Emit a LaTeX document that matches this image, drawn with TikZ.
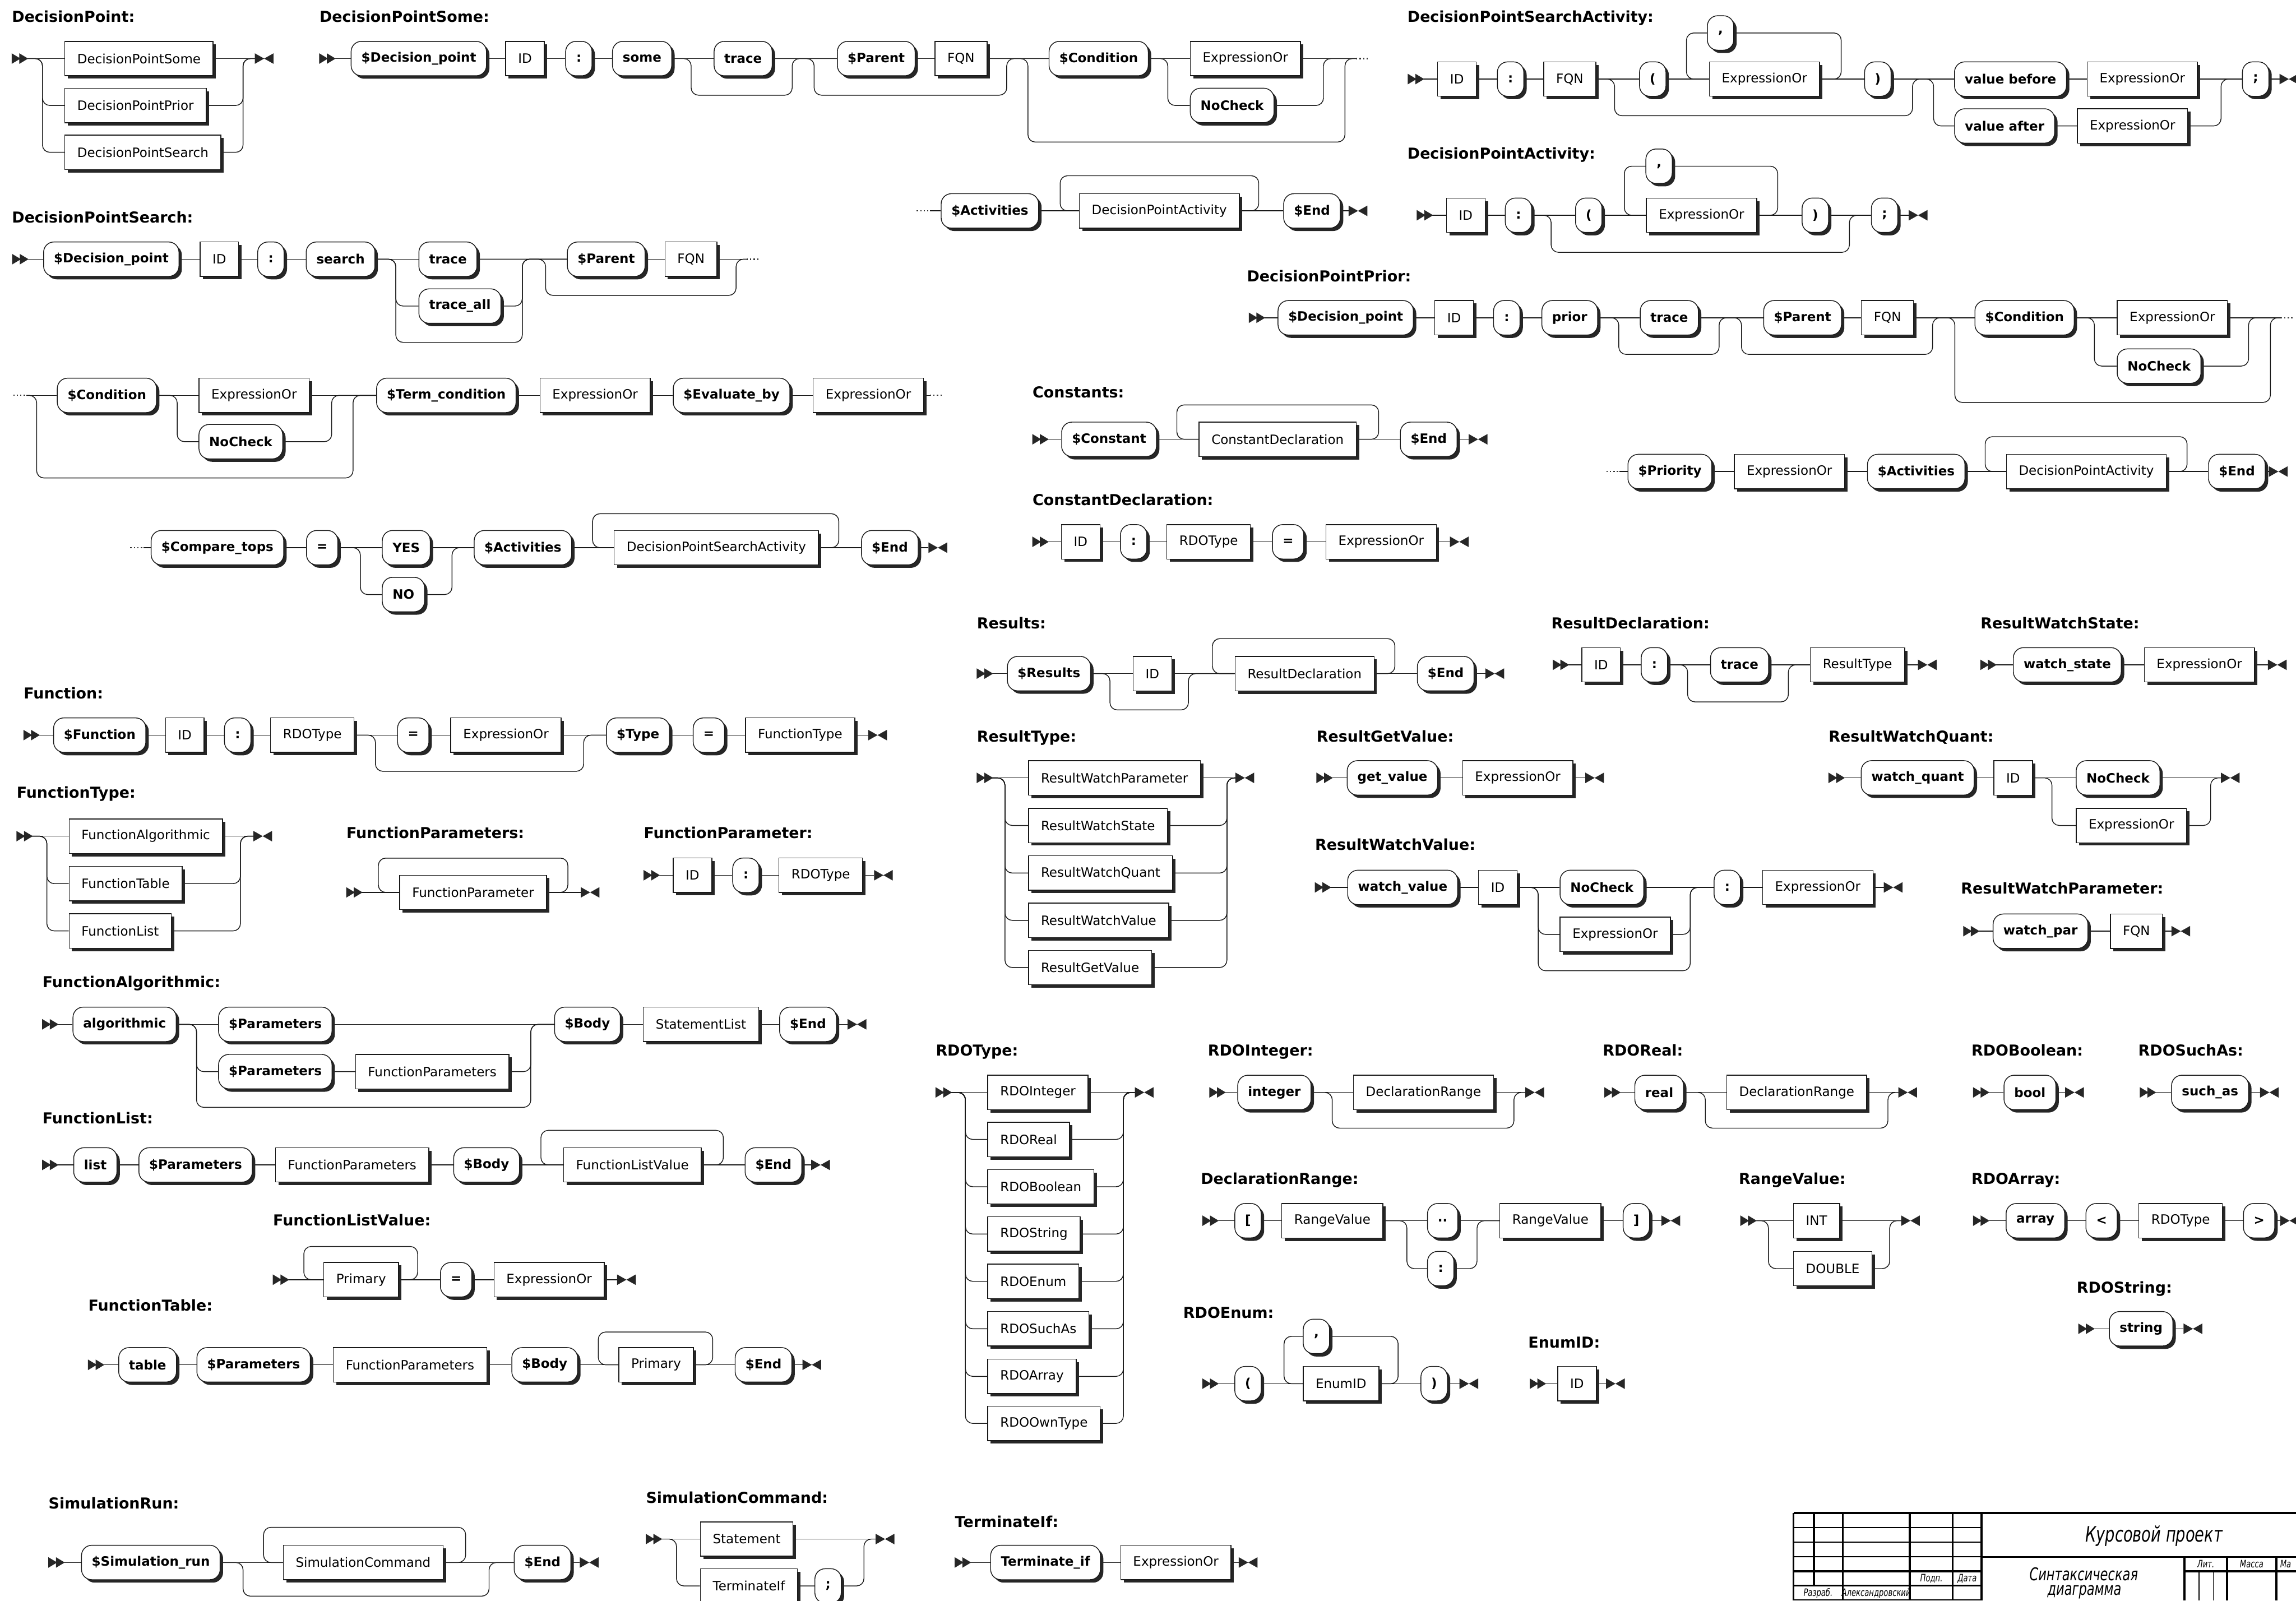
\documentclass[tikz,border=0pt]{standalone}
\usepackage{fontspec}
\setmainfont{DejaVu Sans}
\newfontfamily\gost{DejaVu Sans}[FakeStretch=0.72]
\usetikzlibrary{shadows}
\pgfdeclarelayer{bg}
\pgfsetlayers{bg,main}
\tikzset{
  boxbase/.style={draw=black!90, line width=0.55pt, fill=white, minimum height=23.5pt, inner ysep=2pt,
    general shadow={shadow xshift=2pt, shadow yshift=-2pt, fill=black!85}},
  ntb/.style={boxbase, rectangle, inner xsep=8.5pt, font=\fontsize{8.8}{10}\selectfont},
  tmb/.style={boxbase, rounded corners=7pt, inner xsep=7pt, minimum width=18pt, font=\fontsize{8.8}{10}\selectfont\bfseries},
  ttl/.style={anchor=base west, inner sep=0pt, font=\fontsize{10.3}{12}\selectfont\bfseries},
  rr/.style={line width=0.55pt, rounded corners=5pt, black!90, line join=round},
  mk/.style={fill=black!85},
  dts/.style={line width=0.9pt, dash pattern=on 0.9pt off 1.5pt, black!80},
  sth/.style={line width=1.4pt, black},
  stn/.style={line width=0.7pt, black},
  stt/.style={inner sep=0pt, font=\gost\itshape\fontsize{7}{8}\selectfont}
}
\newcommand\NT[4]{\node[ntb] (#1) at (#2,#3) {#4};}
\newcommand\NTW[4]{\node[ntb,anchor=west] (#1) at (#2,#3) {#4};}
\newcommand\TM[4]{\node[tmb] (#1) at (#2,#3) {#4};}
\newcommand\TMW[4]{\node[tmb,anchor=west] (#1) at (#2,#3) {#4};}
\newcommand\TTL[4]{\node[ttl] (#1) at (#2,#3) {#4};}
\newcommand\RRs[3]{\fill[mk] (#2,#3-3.6) -- (#2+6,#3) -- (#2,#3+3.6) -- cycle (#2+5.2,#3-3.6) -- (#2+11.2,#3) -- (#2+5.2,#3+3.6) -- cycle; \coordinate (#1) at (#2+10.5,#3);}
\newcommand\RRe[3]{\fill[mk] (#2,#3-3.6) -- (#2+6.4,#3) -- (#2,#3+3.6) -- cycle (#2+12.8,#3-3.6) -- (#2+6.4,#3) -- (#2+12.8,#3+3.6) -- cycle; \coordinate (#1) at (#2,#3);}
\newcommand\RRd[4]{\draw[dts] (#3,#4) -- (#3+9,#4); \coordinate (#1) at (#3,#4); \coordinate (#2) at (#3+9,#4);}
\newcommand\RRw[1]{\begin{pgfonlayer}{bg}\draw[rr] #1;\end{pgfonlayer}}
\begin{document}
\begin{tikzpicture}[x=1pt,y=-1pt]
\useasboundingbox (0,0) rectangle (1568,1093);
\begin{pgfonlayer}{bg}\fill[white] (0,0) rectangle (1568,1093);\end{pgfonlayer}

% ===== DecisionPoint
\TTL{tA}{8}{15}{DecisionPoint:}
\RRs{sA}{8}{40}
\NTW{a1}{44}{40}{DecisionPointSome}
\NTW{a2}{44}{72}{DecisionPointPrior}
\NTW{a3}{44}{104}{DecisionPointSearch}
\RRe{eA}{174}{40}
\RRw{(sA) -- (a1) -- (eA)}
\RRw{(sA) -| (29,72) -- (a2)}
\RRw{(sA) -| (29,104) -- (a3)}
\RRw{(a2) -| (166,40) -- (eA)}
\RRw{(a3) -| (166,40) -- (eA)}

% ===== DecisionPointSome
\TTL{tB}{218}{15}{DecisionPointSome:}
\RRs{sB}{218}{40}
\TM{b1}{286}{40}{\$Decision\_point}
\NT{b2}{358.5}{40}{ID}
\TM{b3}{395.3}{40}{:}
\TM{b4}{438.5}{40}{some}
\TM{b5}{507.5}{40}{trace}
\TM{b6}{598.4}{40}{\$Parent}
\NT{b7}{656.3}{40}{FQN}
\TM{b8}{750.3}{40}{\$Condition}
\NTW{b9}{812.6}{40}{ExpressionOr}
\TMW{b10}{812.6}{72}{NoCheck}
\RRd{dB1}{dB1r}{926}{40}
\RRw{(sB) -- (b1) -- (b2) -- (b3) -- (b4) -- (b5) -- (b6) -- (b7) -- (b8) -- (b9) -- (dB1)}
\RRw{(b4) -| (472,65) -| (541,40) -- (b6)}
\RRw{(b5) -| (556,65) -| (687.5,40) -- (b8)}
\RRw{(b7) -| (702,97) -| (918.5,40) -- (dB1)}
\RRw{(b8) -| (797.5,72) -- (b10)}
\RRw{(b10) -| (903.8,40) -- (dB1)}
% continuation
\RRd{dC}{dCr}{626}{144}
\TM{c1}{676}{144}{\$Activities}
\NT{c2}{791.7}{144}{DecisionPointActivity}
\TM{c3}{896}{144}{\$End}
\RRe{eC}{921}{144}
\RRw{(dCr) -- (c1) -- (c2) -- (c3) -- (eC)}
\RRw{(c2) -| (859.6,120) -| (724,144) -- (c2)}

% ===== DecisionPointSearchActivity
\TTL{tD}{961}{15}{DecisionPointSearchActivity:}
\RRs{sD}{961.4}{54}
\NT{d1}{995}{54}{ID}
\TM{d2}{1031.6}{54}{:}
\NT{d3}{1072}{54}{FQN}
\TM{d4}{1128.7}{54}{(}
\NT{d5}{1205}{54}{ExpressionOr}
\TM{d6}{1175}{22.5}{,}
\TM{d7}{1282.4}{54}{)}
\TM{d8}{1373}{54}{value before}
\NT{d9}{1463}{54}{ExpressionOr}
\TM{d10}{1369}{86}{value after}
\NT{d11}{1456.3}{86}{ExpressionOr}
\TM{d12}{1540.4}{54}{;}
\RRe{eD}{1556.7}{54}
\RRw{(sD) -- (d1) -- (d2) -- (d3) -- (d4) -- (d5) -- (d7) -- (d8) -- (d9) -- (d12) -- (eD)}
\RRw{(d5) -| (1257.4,22.5) -- (d6.center) -| (1151.7,54) -- (d5)}
\RRw{(d3) -| (1102.6,79) -| (1306.1,54) -- (d8)}
\RRw{(d7) -| (1320.5,86) -- (d10) -- (d11) -| (1516.8,54) -- (d12)}

% ===== DecisionPointActivity
\TTL{tE}{961}{108.5}{DecisionPointActivity:}
\RRs{sE}{967.5}{147}
\NT{e1}{1001}{147}{ID}
\TM{e2}{1037}{147}{:}
\TM{e3}{1085}{147}{(}
\NT{e4}{1162}{147}{ExpressionOr}
\TM{e5}{1133}{113.5}{,}
\TM{e6}{1239.7}{147}{)}
\TM{e7}{1287}{147}{;}
\RRe{eE}{1303.5}{147}
\RRw{(sE) -- (e1) -- (e2) -- (e3) -- (e4) -- (e6) -- (e7) -- (eE)}
\RRw{(e4) -| (1214,113.5) -- (e5.center) -| (1109.3,147) -- (e4)}
\RRw{(e2) -| (1059.3,172.3) -| (1263,147) -- (e7)}

% ===== DecisionPointSearch
\TTL{tF}{8}{152}{DecisionPointSearch:}
\RRs{sF}{8.3}{177}
\TM{f1}{76}{177}{\$Decision\_point}
\NT{f2}{149.8}{177}{ID}
\TM{f3}{185}{177}{:}
\TM{f4}{232.6}{177}{search}
\TMW{f5}{285.8}{177}{trace}
\TMW{f6}{285.8}{209}{trace\_all}
\TM{f7}{414}{177}{\$Parent}
\NT{f8}{471.9}{177}{FQN}
\RRd{dF1}{dF1r}{509.8}{177}
\RRw{(sF) -- (f1) -- (f2) -- (f3) -- (f4) -- (f5) -- (f7) -- (f8) -- (dF1)}
\RRw{(f4) -| (270.3,209) -- (f6) -| (356.7,177) -- (f7)}
\RRw{(f4) -| (270.3,233.8) -| (356.7,177) -- (f7)}
\RRw{(f5) -| (372.6,201.7) -| (502.7,177) -- (dF1)}
\RRd{dF2}{dF2r}{9}{270}
\TM{f9}{73}{270}{\$Condition}
\NTW{f10}{135.6}{270}{ExpressionOr}
\TMW{f11}{135.6}{301.6}{NoCheck}
\TM{f12}{304.8}{270}{\$Term\_condition}
\NT{f13}{406.4}{270}{ExpressionOr}
\TM{f14}{499.6}{270}{\$Evaluate\_by}
\NT{f15}{593}{270}{ExpressionOr}
\RRd{dF3}{dF3r}{635}{270}
\RRw{(dF2r) -- (f9) -- (f10) -- (f12) -- (f13) -- (f14) -- (f15) -- (dF3)}
\RRw{(dF2r) -| (25,326.4) -| (241.1,270) -- (f12)}
\RRw{(f9) -| (121,301.6) -- (f11) -| (226.5,270) -- (f12)}
\RRd{dF4}{dF4r}{89}{374}
\TM{f16}{148.5}{374}{\$Compare\_tops}
\TM{f17}{220}{374}{=}
\TMW{f18}{260.8}{374}{YES}
\TMW{f19}{260.8}{406}{NO}
\TM{f20}{357.1}{374}{\$Activities}
\NT{f21}{489.2}{374}{DecisionPointSearchActivity}
\TM{f22}{607.7}{374}{\$End}
\RRe{eF}{634.1}{374}
\RRw{(dF4r) -- (f16) -- (f17) -- (f18) -- (f20) -- (f21) -- (f22) -- (eF)}
\RRw{(f17) -| (246.1,406) -- (f19) -| (308.7,374) -- (f20)}
\RRw{(f21) -| (572.8,350.8) -| (404.7,374) -- (f21)}

% ===== DecisionPointPrior
\TTL{tG}{851.4}{192.5}{DecisionPointPrior:}
\RRs{sG}{852.8}{217}
\TM{g1}{919}{217}{\$Decision\_point}
\NT{g2}{993}{217}{ID}
\TM{g3}{1029}{217}{:}
\TM{g4}{1072}{217}{prior}
\TM{g5}{1140}{217}{trace}
\TM{g6}{1231}{217}{\$Parent}
\NT{g7}{1289}{217}{FQN}
\TM{g8}{1382.6}{217}{\$Condition}
\NTW{g9}{1445.6}{217}{ExpressionOr}
\TMW{g10}{1445.6}{250}{NoCheck}
\RRd{dG1}{dG1r}{1557.5}{217}
\RRw{(sG) -- (g1) -- (g2) -- (g3) -- (g4) -- (g5) -- (g6) -- (g7) -- (g8) -- (g9) -- (dG1)}
\RRw{(g4) -| (1105.5,242) -| (1174,217) -- (g6)}
\RRw{(g5) -| (1189.3,242) -| (1319.8,217) -- (g8)}
\RRw{(g7) -| (1335,274.8) -| (1550.5,217) -- (dG1)}
\RRw{(g8) -| (1430.3,250) -- (g10) -| (1535.6,217) -- (dG1)}
\RRd{dG2}{dG2r}{1097}{322}
\TM{g11}{1140.4}{322}{\$Priority}
\NT{g12}{1222}{322}{ExpressionOr}
\TM{g13}{1308.6}{322}{\$Activities}
\NT{g14}{1424.8}{322}{DecisionPointActivity}
\TM{g15}{1527.6}{322}{\$End}
\RRe{eG}{1549.5}{322}
\RRw{(dG2r) -- (g11) -- (g12) -- (g13) -- (g14) -- (g15) -- (eG)}
\RRw{(g14) -| (1493.6,298.2) -| (1355.7,322) -- (g14)}

% ===== Constants
\TTL{tH}{705}{271.5}{Constants:}
\RRs{sH}{705}{300}
\TM{h1}{757.4}{300}{\$Constant}
\NT{h2}{872.5}{300}{ConstantDeclaration}
\TM{h3}{975.7}{300}{\$End}
\RRe{eH}{1003}{300}
\RRw{(sH) -- (h1) -- (h2) -- (h3) -- (eH)}
\RRw{(h2) -| (941.5,276.5) -| (803.7,300) -- (h2)}

% ===== ConstantDeclaration
\TTL{tI}{705}{345}{ConstantDeclaration:}
\RRs{sI}{705}{370}
\NT{i1}{738}{370}{ID}
\TM{i2}{774.2}{370}{:}
\NT{i3}{825.4}{370}{RDOType}
\TM{i4}{879.7}{370}{=}
\NT{i5}{943.2}{370}{ExpressionOr}
\RRe{eI}{990.2}{370}
\RRw{(sI) -- (i1) -- (i2) -- (i3) -- (i4) -- (i5) -- (eI)}

% ===== Results
\TTL{tJ}{667}{429.5}{Results:}
\RRs{sJ}{667}{460}
\TM{j1}{716.4}{460}{\$Results}
\NT{j2}{787}{460}{ID}
\NT{j3}{890.9}{460}{ResultDeclaration}
\TM{j4}{987.3}{460}{\$End}
\RRe{eJ}{1014.4}{460}
\RRw{(sJ) -- (j1) -- (j2) -- (j3) -- (j4) -- (eJ)}
\RRw{(j1) -| (758,484.8) -| (811.6,460) -- (j3)}
\RRw{(j3) -| (952.6,436.1) -| (828,460) -- (j3)}

% ===== ResultDeclaration
\TTL{tK}{1059.3}{429.5}{ResultDeclaration:}
\RRs{sK}{1060.4}{454}
\NT{k1}{1093.4}{454}{ID}
\TM{k2}{1129.8}{454}{:}
\TM{k3}{1188}{454}{trace}
\NT{k4}{1268.5}{454}{ResultType}
\RRe{eK}{1309.8}{454}
\RRw{(sK) -- (k1) -- (k2) -- (k3) -- (k4) -- (eK)}
\RRw{(k2) -| (1152.5,479.3) -| (1221.3,454) -- (k4)}

% ===== ResultWatchState
\TTL{tL}{1352.4}{429.5}{ResultWatchState:}
\RRs{sL}{1352.4}{454}
\TM{l1}{1411.8}{454}{watch\_state}
\NT{l2}{1502}{454}{ExpressionOr}
\RRe{eL}{1548.8}{454}
\RRw{(sL) -- (l1) -- (l2) -- (eL)}

% ===== ResultType
\TTL{tM}{667}{506.5}{ResultType:}
\RRs{sM}{667}{531.2}
\NTW{m1}{702.1}{531.2}{ResultWatchParameter}
\NTW{m2}{702.1}{563.7}{ResultWatchState}
\NTW{m3}{702.1}{596.2}{ResultWatchQuant}
\NTW{m4}{702.1}{628.5}{ResultWatchValue}
\NTW{m5}{702.1}{660.7}{ResultGetValue}
\RRe{eM}{843.7}{531.2}
\RRw{(sM) -- (m1) -- (eM)}
\RRw{(sM) -| (686.3,563.7) -- (m2) -| (837.9,531.2) -- (eM)}
\RRw{(sM) -| (686.3,596.2) -- (m3) -| (837.9,531.2) -- (eM)}
\RRw{(sM) -| (686.3,628.5) -- (m4) -| (837.9,531.2) -- (eM)}
\RRw{(sM) -| (686.3,660.7) -- (m5) -| (837.9,531.2) -- (eM)}

% ===== ResultGetValue
\TTL{tN}{899}{506.5}{ResultGetValue:}
\RRs{sN}{899}{531.2}
\TM{n1}{950.9}{531.2}{get\_value}
\NT{n2}{1036.5}{531.2}{ExpressionOr}
\RRe{eN}{1082.6}{531.2}
\RRw{(sN) -- (n1) -- (n2) -- (eN)}

% ===== ResultWatchQuant
\TTL{tO}{1248.7}{506.5}{ResultWatchQuant:}
\RRs{sO}{1248.7}{531.2}
\TM{o1}{1309.6}{531.2}{watch\_quant}
\NT{o2}{1374.8}{531.2}{ID}
\TMW{o3}{1417.6}{531.2}{NoCheck}
\NTW{o4}{1417.6}{563.7}{ExpressionOr}
\RRe{eO}{1516.7}{531.2}
\RRw{(sO) -- (o1) -- (o2) -- (o3) -- (eO)}
\RRw{(o2) -| (1401.3,563.7) -- (o4) -| (1509.7,531.2) -- (eO)}

% ===== ResultWatchValue
\TTL{tP}{897.9}{580.5}{ResultWatchValue:}
\RRs{sP}{897.9}{606}
\TM{p1}{957.9}{606}{watch\_value}
\NT{p2}{1022.9}{606}{ID}
\TMW{p3}{1065.1}{606}{NoCheck}
\NTW{p4}{1065.1}{638.1}{ExpressionOr}
\TM{p5}{1179.6}{606}{:}
\NT{p6}{1241.4}{606}{ExpressionOr}
\RRe{eP}{1286.5}{606}
\RRw{(sP) -- (p1) -- (p2) -- (p3) -- (p5) -- (p6) -- (eP)}
\RRw{(p2) -| (1050.5,638.1) -- (p4) -| (1154.3,606) -- (p5)}
\RRw{(p2) -| (1050.5,662.9) -| (1154.3,606) -- (p5)}

% ===== ResultWatchParameter
\TTL{tQ}{1339}{610.5}{ResultWatchParameter:}
\RRs{sQ}{1340.7}{635.9}
\TM{q1}{1393.5}{635.9}{watch\_par}
\NT{q2}{1459}{635.9}{FQN}
\RRe{eQ}{1482.9}{635.9}
\RRw{(sQ) -- (q1) -- (q2) -- (eQ)}

% ===== Function
\TTL{tR}{16}{477}{Function:}
\RRs{sR}{16}{502}
\TM{r1}{68.1}{502}{\$Function}
\NT{r2}{126.2}{502}{ID}
\TM{r3}{162.3}{502}{:}
\NT{r4}{213.3}{502}{RDOType}
\TM{r5}{282.2}{502}{=}
\NT{r6}{345.5}{502}{ExpressionOr}
\TM{r7}{435.7}{502}{\$Type}
\TM{r8}{484.1}{502}{=}
\NT{r9}{546.4}{502}{FunctionType}
\RRe{eR}{592.9}{502}
\RRw{(sR) -- (r1) -- (r2) -- (r3) -- (r4) -- (r5) -- (r6) -- (r7) -- (r8) -- (r9) -- (eR)}
\RRw{(r4) -| (256.4,526.7) -| (398.6,502) -- (r7)}

% ===== FunctionType
\TTL{tS}{11.2}{545}{FunctionType:}
\RRs{sS}{11.2}{571}
\NTW{s1}{46.9}{571}{FunctionAlgorithmic}
\NTW{s2}{46.9}{603.4}{FunctionTable}
\NTW{s3}{46.9}{635.7}{FunctionList}
\RRe{eS}{173}{571}
\RRw{(sS) -- (s1) -- (eS)}
\RRw{(sS) -| (32,603.4) -- (s2) -| (164.2,571) -- (eS)}
\RRw{(sS) -| (32,635.7) -- (s3) -| (164.2,571) -- (eS)}

% ===== FunctionParameters
\TTL{tT}{236.4}{572.5}{FunctionParameters:}
\RRs{sT}{236.4}{609.4}
\NT{t1}{323.1}{609.4}{FunctionParameter}
\RRe{eT}{396.6}{609.4}
\RRw{(sT) -- (t1) -- (eT)}
\RRw{(t1) -| (387.8,586) -| (258.4,609.4) -- (t1)}

% ===== FunctionParameter
\TTL{tU}{439.5}{572.5}{FunctionParameter:}
\RRs{sU}{439.5}{597.7}
\NT{u1}{472.9}{597.7}{ID}
\TM{u2}{509.4}{597.7}{:}
\NT{u3}{560.5}{597.7}{RDOType}
\RRe{eU}{596.9}{597.7}
\RRw{(sU) -- (u1) -- (u2) -- (u3) -- (eU)}

% ===== FunctionAlgorithmic
\TTL{tV}{28.8}{674.5}{FunctionAlgorithmic:}
\RRs{sV}{28.8}{699.5}
\TM{v1}{85.1}{699.5}{algorithmic}
\TMW{v2}{149}{699.5}{\$Parameters}
\TMW{v3}{149}{731.8}{\$Parameters}
\NT{v4}{295.2}{731.8}{FunctionParameters}
\TM{v5}{401.2}{699.5}{\$Body}
\NT{v6}{478.7}{699.5}{StatementList}
\TM{v7}{551.8}{699.5}{\$End}
\RRe{eV}{578.9}{699.5}
\RRw{(sV) -- (v1) -- (v2) -- (v5) -- (v6) -- (v7) -- (eV)}
\RRw{(v1) -| (134.2,731.8) -- (v3) -- (v4) -| (362.5,699.5) -- (v5)}
\RRw{(v1) -| (134.2,756.2) -| (362.5,699.5) -- (v5)}

% ===== FunctionList
\TTL{tW}{28.8}{767.5}{FunctionList:}
\RRs{sW}{28.8}{795.5}
\TM{w1}{65.1}{795.5}{list}
\TM{w2}{133.6}{795.5}{\$Parameters}
\NT{w3}{240.5}{795.5}{FunctionParameters}
\TM{w4}{332.3}{795.5}{\$Body}
\NT{w5}{431.9}{795.5}{FunctionListValue}
\TM{w6}{528.2}{795.5}{\$End}
\RRe{eW}{554}{795.5}
\RRw{(sW) -- (w1) -- (w2) -- (w3) -- (w4) -- (w5) -- (w6) -- (eW)}
\RRw{(w5) -| (494,771.9) -| (369.4,795.5) -- (w5)}

% ===== FunctionListValue
\TTL{tX}{186.3}{837}{FunctionListValue:}
\RRs{sX}{186.3}{873.9}
\NT{x1}{246.6}{873.9}{Primary}
\TM{x2}{311.5}{873.9}{=}
\NT{x3}{375}{873.9}{ExpressionOr}
\RRe{eX}{421.4}{873.9}
\RRw{(sX) -- (x1) -- (x2) -- (x3) -- (eX)}
\RRw{(x1) -| (285.2,851.2) -| (207.5,873.9) -- (x1)}

% ===== FunctionTable
\TTL{tY}{60.1}{895}{FunctionTable:}
\RRs{sY}{60.1}{932}
\TM{y1}{100.8}{932}{table}
\TM{y2}{173.2}{932}{\$Parameters}
\NT{y3}{280}{932}{FunctionParameters}
\TM{y4}{372}{932}{\$Body}
\NT{y5}{448.1}{932}{Primary}
\TM{y6}{521.4}{932}{\$End}
\RRe{eY}{548}{932}
\RRw{(sY) -- (y1) -- (y2) -- (y3) -- (y4) -- (y5) -- (y6) -- (eY)}
\RRw{(y5) -| (486.7,909.6) -| (408.6,932) -- (y5)}

% ===== RDOType
\TTL{tZ}{638.9}{721}{RDOType:}
\RRs{sZ}{638.9}{746}
\NTW{z1}{674.3}{746}{RDOInteger}
\NTW{z2}{674.3}{778.1}{RDOReal}
\NTW{z3}{674.3}{810.4}{RDOBoolean}
\NTW{z4}{674.3}{842.7}{RDOString}
\NTW{z5}{674.3}{875}{RDOEnum}
\NTW{z6}{674.3}{907.4}{RDOSuchAs}
\NTW{z7}{674.3}{939.9}{RDOArray}
\NTW{z8}{674.3}{972}{RDOOwnType}
\RRe{eZ}{775}{746}
\RRw{(sZ) -- (z1) -- (eZ)}
\foreach \n/\yy in {z2/778.1,z3/810.4,z4/842.7,z5/875,z6/907.4,z7/939.9,z8/972}{
  \RRw{(sZ) -| (659.3,\yy) -- (\n) -| (767.2,746) -- (eZ)}
}

% ===== RDOInteger
\TTL{tAA}{824.7}{721}{RDOInteger:}
\RRs{sAA}{825.9}{746}
\TM{aa1}{870.3}{746}{integer}
\NT{aa2}{972.1}{746}{DeclarationRange}
\RRe{eAA}{1041.7}{746}
\RRw{(sAA) -- (aa1) -- (aa2) -- (eAA)}
\RRw{(aa1) -| (909.8,770.4) -| (1033.9,746) -- (eAA)}

% ===== RDOReal
\TTL{tAB}{1094.4}{721}{RDOReal:}
\RRs{sAB}{1095.6}{746}
\TM{ab1}{1133.1}{746}{real}
\NT{ab2}{1227}{746}{DeclarationRange}
\RRe{eAB}{1296.4}{746}
\RRw{(sAB) -- (ab1) -- (ab2) -- (eAB)}
\RRw{(ab1) -| (1164.6,770.4) -| (1289.3,746) -- (eAB)}

% ===== RDOBoolean
\TTL{tAC}{1346.2}{721}{RDOBoolean:}
\RRs{sAC}{1347.4}{746}
\TM{ac1}{1386.3}{746}{bool}
\RRe{eAC}{1410.3}{746}
\RRw{(sAC) -- (ac1) -- (eAC)}

% ===== RDOSuchAs
\TTL{tAD}{1460.1}{721}{RDOSuchAs:}
\RRs{sAD}{1461.3}{746}
\TM{ad1}{1509.3}{746}{such\_as}
\RRe{eAD}{1543.4}{746}
\RRw{(sAD) -- (ad1) -- (eAD)}

% ===== DeclarationRange
\TTL{tAE}{819.9}{808.5}{DeclarationRange:}
\RRs{sAE}{821.1}{833.6}
\TM{ae1}{852.3}{833.6}{[}
\NT{ae2}{909.9}{833.6}{RangeValue}
\TMW{ae3}{974.6}{833.6}{..}
\TMW{ae4}{974.6}{866.3}{:}
\NT{ae5}{1058.8}{833.6}{RangeValue}
\TM{ae6}{1117.5}{833.6}{]}
\RRe{eAE}{1134.6}{833.6}
\RRw{(sAE) -- (ae1) -- (ae2) -- (ae3) -- (ae5) -- (ae6) -- (eAE)}
\RRw{(ae2) -| (960.8,866.3) -- (ae4) -| (1008.7,833.6) -- (ae5)}

% ===== RangeValue
\TTL{tAF}{1187.3}{808.5}{RangeValue:}
\RRs{sAF}{1188.5}{833.6}
\NTW{af1}{1224.5}{833.6}{INT}
\NTW{af2}{1224.5}{866.3}{DOUBLE}
\RRe{eAF}{1298.3}{833.6}
\RRw{(sAF) -- (af1) -- (eAF)}
\RRw{(sAF) -| (1207.7,866.3) -- (af2) -| (1290.5,833.6) -- (eAF)}

% ===== RDOArray
\TTL{tAG}{1346.2}{808.5}{RDOArray:}
\RRs{sAG}{1347.4}{833.6}
\TM{ag1}{1390}{833.6}{array}
\TM{ag2}{1435.2}{833.6}{<}
\NT{ag3}{1489.2}{833.6}{RDOType}
\TM{ag4}{1542.8}{833.6}{>}
\RRe{eAG}{1557.2}{833.6}
\RRw{(sAG) -- (ag1) -- (ag2) -- (ag3) -- (ag4) -- (eAG)}

% ===== RDOString
\TTL{tAH}{1418.1}{883}{RDOString:}
\RRs{sAH}{1419.3}{907.4}
\TM{ah1}{1462.2}{907.4}{string}
\RRe{eAH}{1491.2}{907.4}
\RRw{(sAH) -- (ah1) -- (eAH)}

% ===== RDOEnum
\TTL{tAI}{807.9}{900}{RDOEnum:}
\RRs{sAI}{821.1}{944.9}
\TM{ai1}{852.3}{944.9}{(}
\NT{ai2}{915.8}{944.9}{EnumID}
\TM{ai3}{899}{912.6}{,}
\TM{ai4}{979.4}{944.9}{)}
\RRe{eAI}{996.7}{944.9}
\RRw{(sAI) -- (ai1) -- (ai2) -- (ai4) -- (eAI)}
\RRw{(ai2) -| (954.8,912.6) -- (ai3.center) -| (876.9,944.9) -- (ai2)}

% ===== EnumID
\TTL{tAJ}{1043.5}{920.5}{EnumID:}
\RRs{sAJ}{1044.7}{944.9}
\NT{aj1}{1077}{944.9}{ID}
\RRe{eAJ}{1096.8}{944.9}
\RRw{(sAJ) -- (aj1) -- (eAJ)}

% ===== SimulationRun
\TTL{tAK}{33}{1030.5}{SimulationRun:}
\RRs{sAK}{33}{1067}
\TM{ak1}{103}{1067}{\$Simulation\_run}
\NT{ak2}{248}{1067}{SimulationCommand}
\TM{ak3}{370.5}{1067}{\$End}
\RRe{eAK}{396}{1067}
\RRw{(sAK) -- (ak1) -- (ak2) -- (ak3) -- (eAK)}
\RRw{(ak2) -| (318,1043) -| (180,1067) -- (ak2)}
\RRw{(ak1) -| (166,1090) -| (334,1067) -- (ak3)}

% ===== SimulationCommand
\TTL{tAL}{441}{1026.5}{SimulationCommand:}
\RRs{sAL}{441}{1051}
\NTW{al1}{478}{1051}{Statement}
\NTW{al2}{478}{1083}{TerminateIf}
\TM{al3}{565.5}{1083}{;}
\RRe{eAL}{598}{1051}
\RRw{(sAL) -- (al1) -- (eAL)}
\RRw{(sAL) -| (462,1083) -- (al2) -- (al3) -| (590,1051) -- (eAL)}

% ===== TerminateIf
\TTL{tAM}{652}{1043}{TerminateIf:}
\RRs{sAM}{652}{1067}
\TM{am1}{714}{1067}{Terminate\_if}
\NT{am2}{803}{1067}{ExpressionOr}
\RRe{eAM}{846}{1067}
\RRw{(sAM) -- (am1) -- (am2) -- (eAM)}

% ===== Title block
\draw[sth] (1224.8,1033.3) -- (1568,1033.3);
\draw[sth] (1224.8,1033.3) -- (1224.8,1093);
\draw[sth] (1238.7,1033.3) -- (1238.7,1082.8);
\foreach \xx in {1258.5,1304.2,1333.5,1353.2} \draw[sth] (\xx,1033.3) -- (\xx,1093);
\foreach \yy in {1043.2,1053.1,1063.2} \draw[stn] (1224.8,\yy) -- (1353.2,\yy);
\draw[sth] (1353.2,1063.2) -- (1568,1063.2);
\draw[sth] (1224.8,1072.9) -- (1353.2,1072.9);
\draw[sth] (1224.8,1082.8) -- (1353.2,1082.8);
\draw[stn] (1224.8,1092.6) -- (1353.2,1092.6);
\draw[sth] (1491.8,1063.2) -- (1491.8,1093);
\draw[sth] (1491.8,1072.9) -- (1568,1072.9);
\foreach \xx in {1520.9,1554.5} \draw[sth] (\xx,1063.2) -- (\xx,1093);
\foreach \xx in {1501.8,1511.5} \draw[stn] (\xx,1072.9) -- (\xx,1093);
\node[stt,font=\gost\itshape\fontsize{14.5}{16}\selectfont] (gb1) at (1471,1049) {Курсовой проект};
\node[stt,font=\gost\itshape\fontsize{12}{13}\selectfont] (gb2) at (1423,1075) {Синтаксическая};
\node[stt,font=\gost\itshape\fontsize{12}{13}\selectfont] (gb3) at (1423.5,1087) {диаграмма};
\node[stt] (gb4) at (1319,1078) {Подп.};
\node[stt] (gb5) at (1343.4,1078) {Дата};
\node[stt] (gb6) at (1241.6,1088) {Разраб.};
\node[stt] (gb7) at (1281.3,1088) {Александровский};
\node[stt] (gb8) at (1506.4,1068) {Лит.};
\node[stt] (gb9) at (1537.7,1068) {Масса};
\node[stt,anchor=west] (gb10) at (1557,1068) {Ма};
\end{tikzpicture}
\end{document}
